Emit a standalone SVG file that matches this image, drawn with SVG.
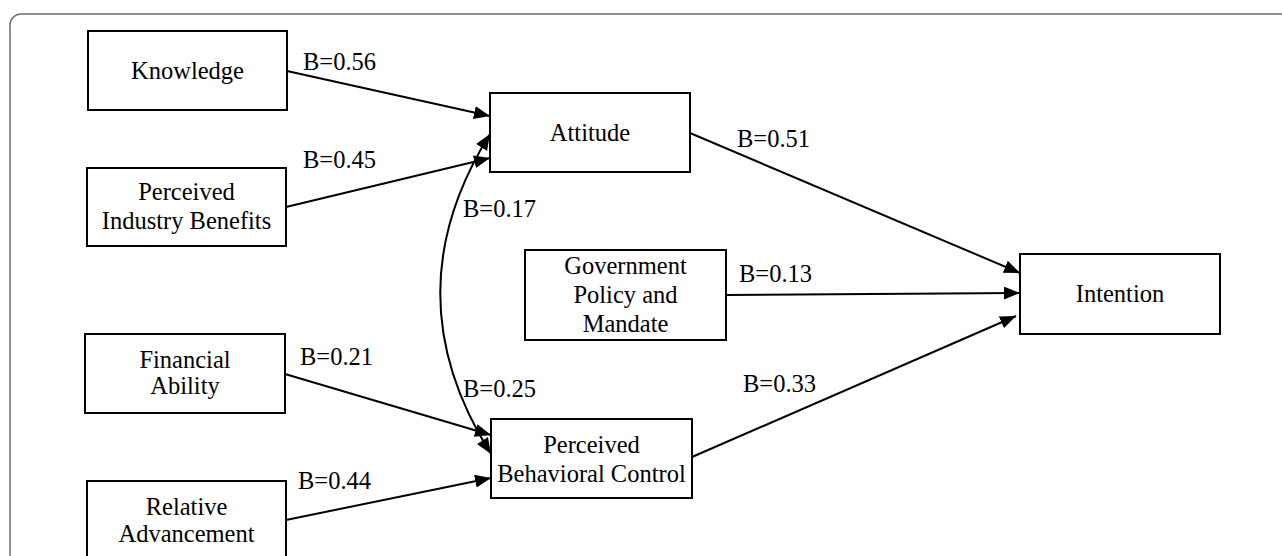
<svg xmlns="http://www.w3.org/2000/svg" width="1282" height="556" viewBox="0 0 1282 556">
<style>
.box{fill:#fff;stroke:#000;stroke-width:2}
.t{font-family:"Liberation Serif",Tinos,"Times New Roman",Times,"DejaVu Serif",serif;font-size:24.5px;fill:#000;text-anchor:middle}
.l{font-family:"Liberation Serif",Tinos,"Times New Roman",Times,"DejaVu Serif",serif;font-size:24.5px;fill:#000}
.c{fill:none;stroke:#000;stroke-width:2}
</style>
<defs>
<marker id="ah" markerUnits="userSpaceOnUse" markerWidth="17" markerHeight="14" refX="16" refY="6.5" orient="auto">
<path d="M0,0 L16,6.5 L0,13 z" fill="#000"/>
</marker>
<marker id="as" markerUnits="userSpaceOnUse" markerWidth="17" markerHeight="14" refX="16" refY="6.5" orient="auto-start-reverse">
<path d="M0,0 L16,6.5 L0,13 z" fill="#000"/>
</marker>
</defs>
<rect x="10" y="14" width="1300" height="600" rx="11" fill="#fff" stroke="#6e6e6e" stroke-width="1.5"/>
<g id="connectors">
<line class="c" x1="287" y1="71" x2="490" y2="116" marker-end="url(#ah)"/>
<line class="c" x1="286" y1="207" x2="490" y2="158" marker-end="url(#ah)"/>
<path class="c" d="M490,134 Q390,294 491,454" marker-start="url(#as)" marker-end="url(#as)"/>
<line class="c" x1="690" y1="133" x2="1020" y2="273" marker-end="url(#ah)"/>
<line class="c" x1="726" y1="295" x2="1020" y2="293" marker-end="url(#ah)"/>
<line class="c" x1="692" y1="457" x2="1016" y2="316" marker-end="url(#ah)"/>
<line class="c" x1="285" y1="374" x2="491" y2="435" marker-end="url(#ah)"/>
<line class="c" x1="286" y1="520" x2="491" y2="478" marker-end="url(#ah)"/>
</g>
<g id="labels">
<text class="l" x="303" y="70" font-family="Liberation Serif, serif">B=0.56</text>
<text class="l" x="303" y="168" font-family="Liberation Serif, serif">B=0.45</text>
<text class="l" x="463" y="217" font-family="Liberation Serif, serif">B=0.17</text>
<text class="l" x="463" y="397" font-family="Liberation Serif, serif">B=0.25</text>
<text class="l" x="737" y="147" font-family="Liberation Serif, serif">B=0.51</text>
<text class="l" x="739" y="282" font-family="Liberation Serif, serif">B=0.13</text>
<text class="l" x="743" y="392" font-family="Liberation Serif, serif">B=0.33</text>
<text class="l" x="300" y="365" font-family="Liberation Serif, serif">B=0.21</text>
<text class="l" x="298" y="489" font-family="Liberation Serif, serif">B=0.44</text>
</g>
<g id="knowledge">
<rect class="box" x="88" y="31" width="199" height="79"/>
<text class="t" x="187.5" y="79">Knowledge</text>
</g>
<g id="benefits">
<rect class="box" x="87" y="168" width="199" height="78"/>
<text class="t" x="186.5" y="200">Perceived</text>
<text class="t" x="186.5" y="229">Industry Benefits</text>
</g>
<g id="attitude">
<rect class="box" x="490" y="93" width="200" height="79"/>
<text class="t" x="590" y="141">Attitude</text>
</g>
<g id="government">
<rect class="box" x="525" y="250" width="201" height="90"/>
<text class="t" x="625.5" y="274">Government</text>
<text class="t" x="625.5" y="303">Policy and</text>
<text class="t" x="625.5" y="332">Mandate</text>
</g>
<g id="intention">
<rect class="box" x="1020" y="254" width="200" height="80"/>
<text class="t" x="1120" y="302">Intention</text>
</g>
<g id="financial">
<rect class="box" x="85" y="334" width="200" height="79"/>
<text class="t" x="185" y="368">Financial</text>
<text class="t" x="185" y="394">Ability</text>
</g>
<g id="relative">
<rect class="box" x="87" y="481" width="199" height="80"/>
<text class="t" x="186.5" y="515">Relative</text>
<text class="t" x="186.5" y="542">Advancement</text>
</g>
<g id="pbc">
<rect class="box" x="491" y="419" width="201" height="79"/>
<text class="t" x="591.5" y="453">Perceived</text>
<text class="t" x="591.5" y="482">Behavioral Control</text>
</g>
</svg>
